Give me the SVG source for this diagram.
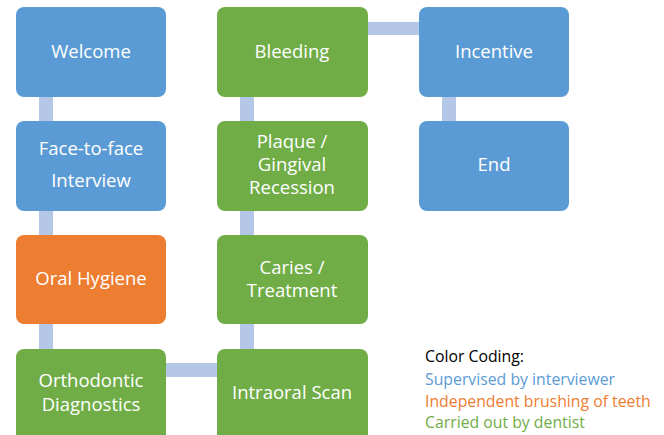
<svg xmlns="http://www.w3.org/2000/svg" width="664" height="435" viewBox="0 0 664 435">
<style>
.b{fill:#5b9bd5}.g{fill:#70ad47}.o{fill:#ed7d31}
.c{fill:#b4c7e7}
.t{font-family:"Open Sans","Liberation Sans",sans-serif;font-size:18.5px;fill:#fff;text-anchor:middle}
.l{font-family:"Open Sans","Liberation Sans",sans-serif;font-size:15.8px}
</style>
<rect width="664" height="435" fill="#fff"/>
<g id="connectors">
<rect class="c" x="39" y="97" width="14" height="24"/>
<rect class="c" x="39" y="211" width="14" height="24"/>
<rect class="c" x="39" y="324" width="14" height="25"/>
<rect class="c" x="166" y="363" width="52" height="14"/>
<rect class="c" x="240" y="324" width="14" height="25"/>
<rect class="c" x="240" y="211" width="14" height="24"/>
<rect class="c" x="240" y="97" width="14" height="24"/>
<rect class="c" x="368" y="22" width="51" height="13"/>
<rect class="c" x="442" y="97" width="14" height="24"/>
</g>
<g id="welcome"><rect class="b" x="16" y="7" width="150" height="90" rx="8"/><text class="t" x="91" y="58">Welcome</text></g>
<g id="interview"><rect class="b" x="16" y="121" width="150" height="90" rx="8"/><text class="t" x="91" y="155">Face-to-face</text><text class="t" x="91" y="187">Interview</text></g>
<g id="oral-hygiene"><rect class="o" x="16" y="235" width="150" height="89" rx="8"/><text class="t" x="91" y="285">Oral Hygiene</text></g>
<g id="orthodontic"><rect class="g" x="16" y="349" width="150" height="94" rx="8"/><text class="t" x="91" y="387">Orthodontic</text><text class="t" x="91" y="411">Diagnostics</text></g>
<g id="bleeding"><rect class="g" x="217" y="7" width="151" height="90" rx="8"/><text class="t" x="292" y="58">Bleeding</text></g>
<g id="plaque"><rect class="g" x="217" y="121" width="151" height="90" rx="8"/><text class="t" x="292" y="148">Plaque /</text><text class="t" x="292" y="171">Gingival</text><text class="t" x="292" y="194">Recession</text></g>
<g id="caries"><rect class="g" x="217" y="235" width="151" height="89" rx="8"/><text class="t" x="292" y="274">Caries /</text><text class="t" x="292" y="297">Treatment</text></g>
<g id="intraoral"><rect class="g" x="217" y="349" width="151" height="94" rx="8"/><text class="t" x="292" y="399">Intraoral Scan</text></g>
<g id="incentive"><rect class="b" x="419" y="7" width="150" height="90" rx="8"/><text class="t" x="494" y="58">Incentive</text></g>
<g id="end"><rect class="b" x="419" y="121" width="150" height="90" rx="8"/><text class="t" x="494" y="171">End</text></g>
<g id="legend">
<text class="l" x="425" y="362" fill="#000">Color Coding:</text>
<text class="l" x="425" y="385" fill="#5b9bd5">Supervised by interviewer</text>
<text class="l" x="425" y="407" fill="#ed7d31">Independent brushing of teeth</text>
<text class="l" x="425" y="428" fill="#70ad47">Carried out by dentist</text>
</g>
</svg>
